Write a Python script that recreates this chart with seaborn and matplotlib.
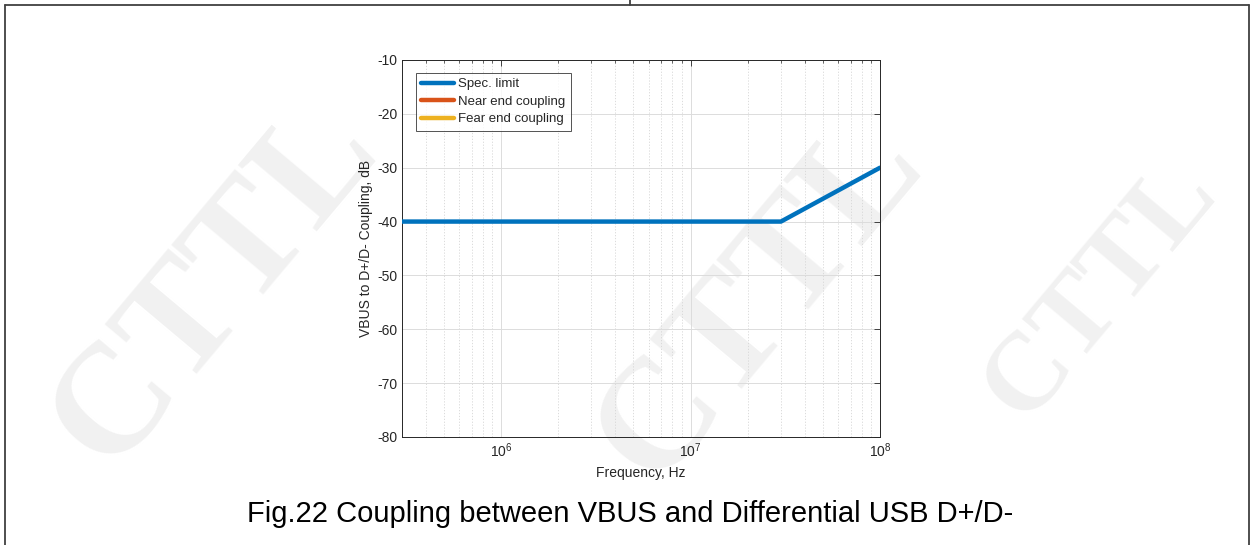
import numpy as np
import pandas as pd
import matplotlib
matplotlib.use("Agg")
import matplotlib.pyplot as plt
from matplotlib.lines import Line2D
from matplotlib.ticker import LogLocator, NullFormatter, FixedLocator
import seaborn as sns

# Spec. limit for VBUS to D+/D- coupling (flat, then +20 dB/decade)
spec_freq_hz = [3e5, 3e7, 1e8]
spec_limit_db = [-40, -40, -30]
# Measured traces (no points inside the plotted window)
near_end_freq_hz = []
near_end_db = []
far_end_freq_hz = []
far_end_db = []

series_names = ["Spec. limit", "Near end coupling", "Fear end coupling"]
series_colors = ["#0072BD", "#D95319", "#EDB120"]
y_ticks = [-80, -70, -60, -50, -40, -30, -20, -10]
x_limits = (3e5, 1e8)
caption = "Fig.22 Coupling between VBUS and Differential USB D+/D-"

sns.set_style("white")
plt.rcParams["font.family"] = ["Liberation Sans", "DejaVu Sans"]
plt.rcParams["mathtext.fontset"] = "custom"
plt.rcParams["mathtext.rm"] = "Liberation Sans"
plt.rcParams["axes.unicode_minus"] = False

fig = plt.figure(figsize=(12.54, 5.45), dpi=100)
W, H = 1254, 545

# Faint watermark lettering behind everything
wm_kw = dict(family=["Liberation Serif", "DejaVu Serif"], fontweight="bold",
             color="#f1f1f1", rotation=50, ha="center", va="center", zorder=0)
fig.text(215 / W, 1 - 285 / H, "CTTL", fontsize=112, **wm_kw)
fig.text(760 / W, 1 - 300 / H, "CTTL", fontsize=112, **wm_kw)
fig.text(1100 / W, 1 - 290 / H, "CTTL", fontsize=80, **wm_kw)

ax = fig.add_axes([402 / W, 1 - 437 / H, (880 - 402) / W, (437 - 60) / H])
ax.set_facecolor("none")
ax.set_zorder(2)

spec_df = pd.DataFrame({"f": spec_freq_hz, "db": spec_limit_db})
sns.lineplot(data=spec_df, x="f", y="db", ax=ax, color=series_colors[0],
             linewidth=3.2, sort=False, zorder=3)
ax.plot(near_end_freq_hz, near_end_db, color=series_colors[1], linewidth=3.2)
ax.plot(far_end_freq_hz, far_end_db, color=series_colors[2], linewidth=3.2)

ax.set_xscale("log")
ax.set_xlim(*x_limits)
ax.set_ylim(-80, -10)
ax.yaxis.set_major_locator(FixedLocator(y_ticks))
ax.xaxis.set_major_locator(LogLocator(base=10, numticks=10))
ax.xaxis.set_minor_locator(LogLocator(base=10, subs=np.arange(2, 10), numticks=20))
ax.xaxis.set_minor_formatter(NullFormatter())

ax.grid(True, which="major", color="#dcdcdc", linewidth=0.7, linestyle="-")
ax.grid(True, which="minor", axis="x", color="#d6d6d6", linewidth=0.6,
        linestyle=(0, (1.5, 2.0)))
ax.set_axisbelow(True)

for s in ax.spines.values():
    s.set_color("#262626")
    s.set_linewidth(0.7)
ax.tick_params(which="both", direction="in", top=True, right=True,
               colors="#262626", labelsize=10)
ax.tick_params(which="major", length=4, width=0.6)
ax.tick_params(which="minor", length=2.5, width=0.5)

ax.set_xlabel("Frequency, Hz", fontsize=10, color="#262626", labelpad=4)
ax.set_ylabel("VBUS to D+/D- Coupling, dB", fontsize=10, color="#262626",
              labelpad=3)

handles = [Line2D([], [], color=c, linewidth=3.2) for c in series_colors]
leg = ax.legend(handles, series_names, loc="upper left",
                bbox_to_anchor=(0.029, 0.966), fontsize=9.5, frameon=True,
                fancybox=False, handlelength=2.5, handletextpad=0.3,
                borderpad=0.4, labelspacing=0.4, borderaxespad=0)
leg.get_frame().set_edgecolor("#262626")
leg.get_frame().set_linewidth(0.7)

# Table cell borders around the figure
border = dict(color="#404040", linewidth=1.3, transform=fig.transFigure,
              clip_on=False)
fig.add_artist(Line2D([5 / W, 1249 / W], [1 - 5 / H, 1 - 5 / H], **border))
fig.add_artist(Line2D([5 / W, 5 / W], [0, 1 - 5 / H], **border))
fig.add_artist(Line2D([1249 / W, 1249 / W], [0, 1 - 5 / H], **border))
fig.add_artist(Line2D([630 / W, 630 / W], [1 - 5 / H, 1], **border))

fig.text(630 / W, 1 - 514 / H, caption, ha="center", va="center", fontsize=21,
         color="black")

fig.savefig("out.png", dpi=100)
